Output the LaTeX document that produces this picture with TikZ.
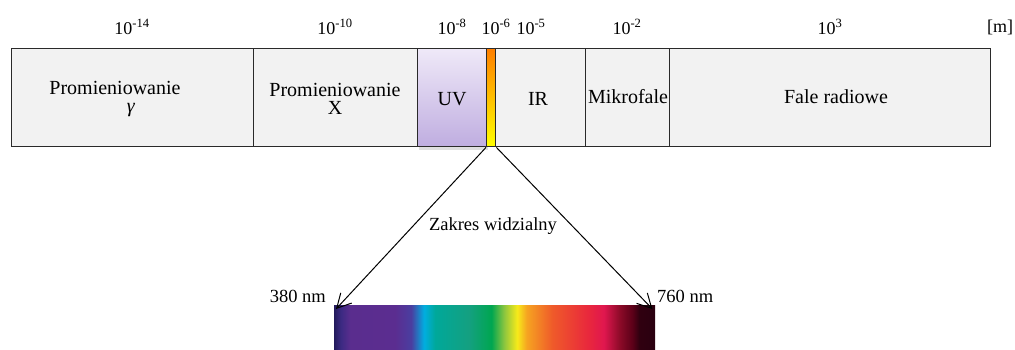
\documentclass[tikz,border=0pt]{standalone}
\usepackage{fontspec}
\setmainfont{Liberation Serif}
\usetikzlibrary{arrows.meta,shadows}
\definecolor{barfill}{HTML}{F2F2F2}
\definecolor{barline}{HTML}{2A2A2A}
\definecolor{uvtop}{HTML}{EFE9F8}
\definecolor{uvbot}{HTML}{BFADE0}
\definecolor{s0}{HTML}{231A5C}
\definecolor{s1}{HTML}{3B2A82}
\definecolor{s2}{HTML}{5A2D8E}
\definecolor{s3}{HTML}{5B2D90}
\definecolor{s4}{HTML}{4A3EA0}
\definecolor{s5}{HTML}{00AEE0}
\definecolor{s6}{HTML}{00A89A}
\definecolor{s7}{HTML}{14A080}
\definecolor{s8}{HTML}{00A650}
\definecolor{s9}{HTML}{8EC63F}
\definecolor{s10}{HTML}{F7EA1A}
\definecolor{s11}{HTML}{F6A321}
\definecolor{s12}{HTML}{EF5A2A}
\definecolor{s13}{HTML}{E9283C}
\definecolor{s14}{HTML}{E0174F}
\definecolor{s15}{HTML}{8C0A28}
\definecolor{s16}{HTML}{5A0018}
\definecolor{s17}{HTML}{300010}
\definecolor{s18}{HTML}{2A0010}
\pgfdeclarehorizontalshading{spectrum}{100bp}{color(0bp)=(s0); color(25bp)=(s0); color(26bp)=(s1); color(27.5bp)=(s2); color(34.5bp)=(s3); color(37bp)=(s4); color(39bp)=(s5); color(40.75bp)=(s6); color(46bp)=(s7); color(49.5bp)=(s8); color(51.5bp)=(s9); color(53.5bp)=(s10); color(55bp)=(s11); color(59bp)=(s12); color(64.5bp)=(s13); color(67bp)=(s14); color(69.5bp)=(s15); color(71.5bp)=(s16); color(72.5bp)=(s17); color(75bp)=(s18); color(100bp)=(s18)}
\begin{document}
\begin{tikzpicture}[x=1pt,y=-1pt,
  seg/.style={draw=barline, line width=1.4pt, fill=barfill, anchor=north west, inner sep=0pt, minimum height=98pt},
  lbl/.style={font=\fontsize{20}{21}\selectfont, align=center, inner sep=0pt},
  toplbl/.style={font=\fontsize{18}{19}\selectfont, inner sep=0pt},
  small/.style={font=\fontsize{18.5}{20}\selectfont, inner sep=0pt},
  arr/.style={line width=1pt, -{Straight Barb[length=14pt,width=15pt,line width=1pt]}}
]
\useasboundingbox (0,0) rectangle (1015,349);
% bar segments
\node[seg, minimum width=242pt] (gam) at (11,48) {};
\node[seg, minimum width=164pt] (xr) at (253,48) {};
\node[seg, minimum width=90pt] (ir) at (495,48) {};
\node[seg, minimum width=84pt] (mw) at (585,48) {};
\node[seg, minimum width=321pt] (rad) at (669,48) {};
\node[seg, minimum width=69pt, top color=uvtop, bottom color=uvbot, drop shadow={shadow xshift=1pt, shadow yshift=-3pt, opacity=0.25}] (uv) at (417,48) {};
\node[seg, minimum width=9pt, top color=orange, bottom color=yellow] (vis) at (486,48) {};
% labels in the bar
\node[lbl] (tgam) at (115,99) {Promieniowanie\\[-3pt]\hspace*{32pt}\textit{γ}};
\node[lbl] (txr) at (335,99) {Promieniowanie\\[-3pt]X};
\node[lbl] (tuv) at (452,99) {UV};
\node[lbl] (tir) at (538,99) {IR};
\node[lbl] (tmw) at (628,97) {Mikrofale};
\node[lbl] (trad) at (836,97) {Fale radiowe};
% top scale labels
\node[toplbl] (l14) at (132,27) {10\textsuperscript{-14}};
\node[toplbl] (l10) at (335,27) {10\textsuperscript{-10}};
\node[toplbl] (l8) at (452,27) {10\textsuperscript{-8}};
\node[toplbl] (l6) at (496,27) {10\textsuperscript{-6}};
\node[toplbl] (l5) at (531,27) {10\textsuperscript{-5}};
\node[toplbl] (l2) at (627,27) {10\textsuperscript{-2}};
\node[toplbl] (l3) at (830,27) {10\textsuperscript{3}};
\node[toplbl] (lm) at (1000,27) {[m]};
% spectrum
\node[anchor=north west, inner sep=0pt, minimum width=321pt, minimum height=48pt, shading=spectrum] (spec) at (334,305) {};
\draw[arr] (vis.south west) -- ([xshift=2pt,yshift=-4pt]spec.north west);
\draw[arr] (vis.south east) -- ([xshift=-3pt,yshift=-4pt]spec.north east);
\node[small] (zak) at (493,226) {Zakres widzialny};
\node[small, anchor=east] (n380) at (326,296) {380 nm};
\node[small, anchor=west] (n760) at (657,296) {760 nm};
\end{tikzpicture}
\end{document}
